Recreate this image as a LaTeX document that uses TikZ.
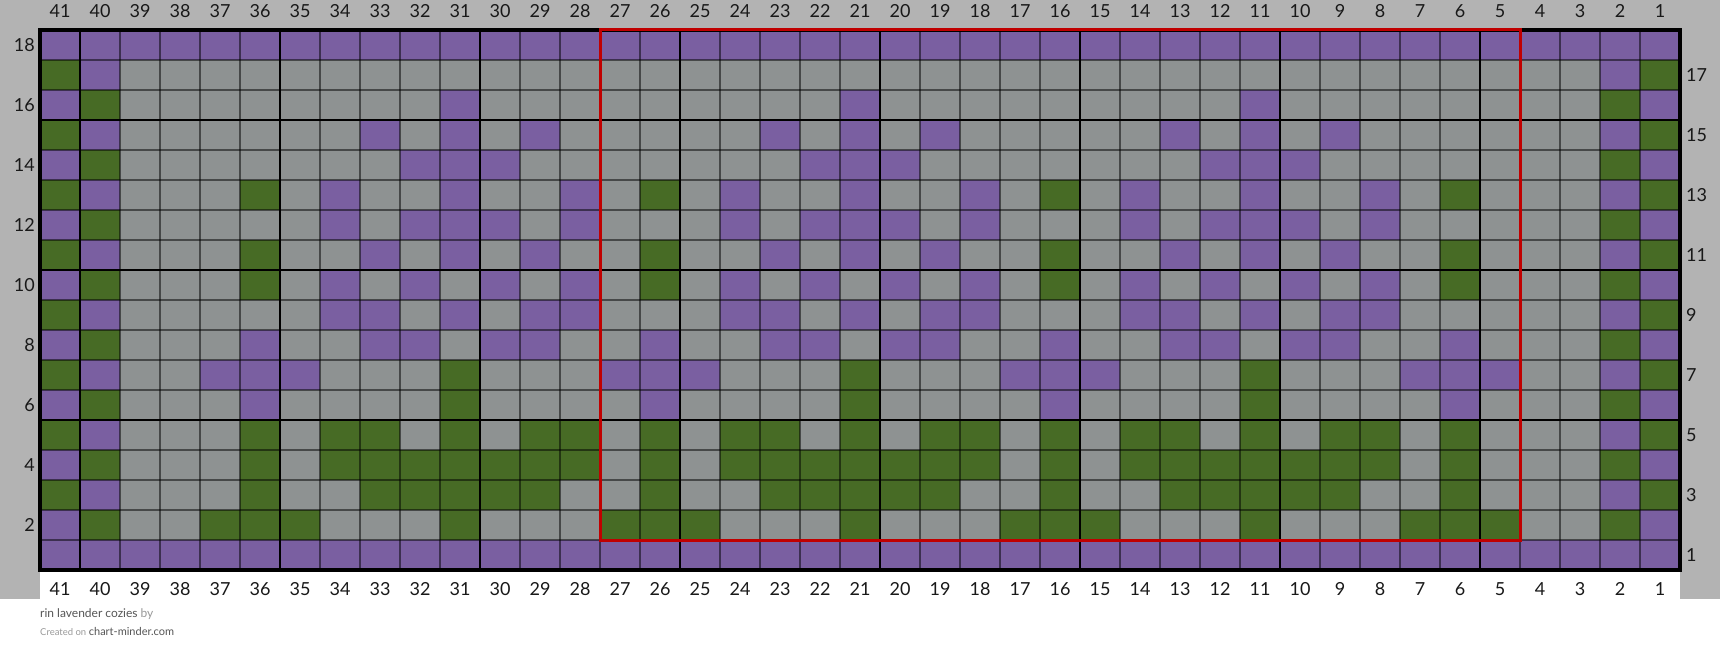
\documentclass[tikz,border=0pt]{standalone}
\usepackage{fontspec}
\setmainfont{Lato}
\definecolor{cpurple}{HTML}{7A5FA1}
\definecolor{cgreen}{HTML}{476B25}
\definecolor{cgrey}{HTML}{8E9292}
\definecolor{cbg}{HTML}{B3B3B3}
\definecolor{cred}{HTML}{C00000}
\definecolor{cdark}{HTML}{555555}
\definecolor{clight}{HTML}{999999}
\newcommand\kcell[3]{\fill[#3] ({1680-40*#1},{570-30*#2}) rectangle ++(40,30);}
\begin{document}
\begin{tikzpicture}[x=1pt,y=-1pt,
  lab/.style={font=\fontsize{18}{20}\selectfont, text=black!90, inner sep=0pt},
  thinline/.style={draw=black, opacity=0.5, line width=1.3pt},
  thickline/.style={draw=black, line width=2.6pt},
  borderline/.style={draw=black, line width=3.2pt},
  redline/.style={draw=cred, line width=3pt}]
\useasboundingbox (0,0) rectangle (1720,663);
\fill[white] (0,0) rectangle (1720,663);
\fill[cbg] (0,0) rectangle (1720,599);
\fill[white] (40,570) rectangle (1680,599);
% base grey
\fill[cgrey] (40,30) rectangle (1680,570);
% top and bottom purple rows
\fill[cpurple] (40,30) rectangle (1680,60);
\fill[cpurple] (40,540) rectangle (1680,570);
% edge columns
\foreach \r in {3,5,...,17} {\kcell{41}{\r}{cgreen} \kcell{1}{\r}{cgreen} \kcell{40}{\r}{cpurple} \kcell{2}{\r}{cpurple}}
\foreach \r in {2,4,...,16} {\kcell{41}{\r}{cpurple} \kcell{1}{\r}{cpurple} \kcell{40}{\r}{cgreen} \kcell{2}{\r}{cgreen}}
% repeating motif (period 10 columns, columns 37..5)
\begin{scope}
\clip (200,0) rectangle (1520,663);
\foreach \m/\r/\c in {
  4/16/cpurple,
  2/15/cpurple, 4/15/cpurple, 6/15/cpurple,
  3/14/cpurple, 4/14/cpurple, 5/14/cpurple,
  1/13/cpurple, 4/13/cpurple, 7/13/cpurple, 9/13/cgreen,
  1/12/cpurple, 3/12/cpurple, 4/12/cpurple, 5/12/cpurple, 7/12/cpurple,
  2/11/cpurple, 4/11/cpurple, 6/11/cpurple, 9/11/cgreen,
  1/10/cpurple, 3/10/cpurple, 5/10/cpurple, 7/10/cpurple, 9/10/cgreen,
  1/9/cpurple, 2/9/cpurple, 4/9/cpurple, 6/9/cpurple, 7/9/cpurple,
  2/8/cpurple, 3/8/cpurple, 5/8/cpurple, 6/8/cpurple, 9/8/cpurple,
  0/7/cpurple, 4/7/cgreen, 8/7/cpurple, 9/7/cpurple,
  4/6/cgreen, 9/6/cpurple,
  1/5/cgreen, 2/5/cgreen, 4/5/cgreen, 6/5/cgreen, 7/5/cgreen, 9/5/cgreen,
  1/4/cgreen, 2/4/cgreen, 3/4/cgreen, 4/4/cgreen, 5/4/cgreen, 6/4/cgreen, 7/4/cgreen, 9/4/cgreen,
  2/3/cgreen, 3/3/cgreen, 4/3/cgreen, 5/3/cgreen, 6/3/cgreen, 9/3/cgreen,
  0/2/cgreen, 4/2/cgreen, 8/2/cgreen, 9/2/cgreen}
  {\foreach \j in {-1,...,3} {\fill[\c] ({600-40*\m+400*\j},{570-30*\r}) rectangle ++(40,30);}}
\end{scope}
% thin grid
\foreach \i in {0,...,41} {\draw[thinline] ({40+40*\i},30) -- ({40+40*\i},570);}
\foreach \j in {0,...,18} {\draw[thinline] (40,{30+30*\j}) -- (1680,{30+30*\j});}
% thick grid
\foreach \x in {80,280,...,1480} {\draw[thickline] (\x,30) -- (\x,570);}
\foreach \y in {120,270,420} {\draw[thickline] (40,\y) -- (1680,\y);}
\draw[borderline] (40,30) rectangle (1680,570);
% highlighted repeat
\draw[redline] (600,30) rectangle (1520,540);
% column numbers
\foreach \c in {1,...,41} {
  \node[lab] (top\c) at ({1700-40*\c},11) {\c};
  \node[lab] (bot\c) at ({1700-40*\c},589) {\c};
}
% row numbers
\foreach \r in {2,4,...,18} {\node[lab, anchor=east] (left\r) at (35,{585-30*\r}) {\r};}
\foreach \r in {1,3,...,17} {\node[lab, anchor=west] (right\r) at (1686,{585-30*\r}) {\r};}
% footer
\node[anchor=base west, inner sep=0pt, font=\fontsize{12}{14}\selectfont] (title) at (40,617)
  {\textcolor{cdark}{rin lavender cozies} \textcolor{clight}{by}};
\node[anchor=base west, inner sep=0pt] (credit) at (40,635)
  {\textcolor{clight}{\fontsize{9.5}{11}\selectfont Created on} \textcolor{cdark}{\fontsize{11}{13}\selectfont chart-minder.com}};
\end{tikzpicture}
\end{document}
